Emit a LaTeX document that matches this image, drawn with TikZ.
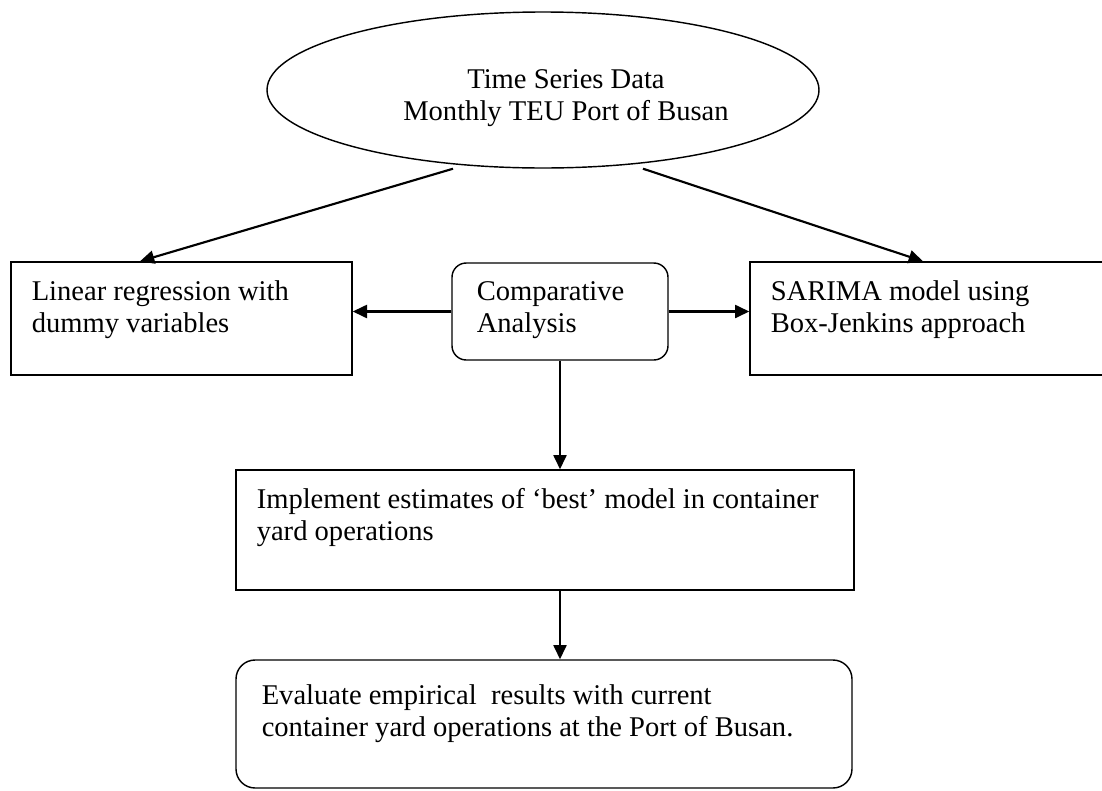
\documentclass[tikz,border=0pt]{standalone}
\usepackage{fontspec}
\setmainfont{Liberation Serif}
\usetikzlibrary{shapes.geometric,arrows.meta,calc}

\newcommand{\unitpx}{0.42pt}
\tikzset{
	flowtext/.style={font=\fontsize{12pt}{13.5pt}\selectfont, inner sep=0pt, align=left, anchor=north west, xshift=21*\unitpx, yshift=-18.5*\unitpx},
	flowbox/.style={draw, line width=0.6pt, inner sep=0pt},
	flowarrow/.style={line width=0.9pt, -{Triangle[length=6pt,width=5.5pt]}},
}

\begin{document}
\begin{tikzpicture}[x=\unitpx,y=-\unitpx]
	\clip (0,0) rectangle (1102,790);
	% source data
	\node [ellipse,flowbox,minimum width=552*\unitpx,minimum height=156*\unitpx,
		label={[flowtext,align=center,anchor=center,xshift=2*\unitpx,yshift=10*\unitpx]center:Time Series Data\\Monthly TEU Port of Busan}] (data) at (543,90) {};
	% the two models
	\node [flowbox,minimum width=341*\unitpx,minimum height=113*\unitpx,
		label={[flowtext]north west:Linear regression with\\dummy variables}] (lin) at (181.5,318.5) {};
	\node [flowbox,rounded corners=6pt,minimum width=216*\unitpx,minimum height=97*\unitpx,
		label={[flowtext,xshift=4*\unitpx]north west:Comparative\\Analysis}] (comp) at (560,311.5) {};
	\node [flowbox,minimum width=356*\unitpx,minimum height=113*\unitpx,
		label={[flowtext]north west:SARIMA model using\\Box-Jenkins approach}] (sar) at (928,318.5) {};
	% results
	\node [flowbox,minimum width=618*\unitpx,minimum height=120*\unitpx,
		label={[flowtext]north west:Implement estimates of `best' model in container\\yard operations}] (impl) at (545,530) {};
	\node [flowbox,rounded corners=8pt,minimum width=616*\unitpx,minimum height=128*\unitpx,
		label={[flowtext,xshift=5*\unitpx,yshift=-6*\unitpx]north west:Evaluate empirical\ \ results with current\\container yard operations at the Port of Busan.}] (eval) at (544,724) {};

	\draw [flowarrow] ($(data.south)+(-90,0)$) -- ($(lin.north)+(-41.5,0)$);
	\draw [flowarrow] ($(data.south)+(100,0)$) -- ($(sar.north)+(-5,0)$);
	\draw [flowarrow] (comp.west) -- (comp.west -| lin.east);
	\draw [flowarrow] (comp.east) -- (comp.east -| sar.west);
	\draw [flowarrow] (comp.south) -- (comp.south |- impl.north);
	\draw [flowarrow] (comp.south |- impl.south) -- (comp.south |- eval.north);
\end{tikzpicture}
\end{document}
